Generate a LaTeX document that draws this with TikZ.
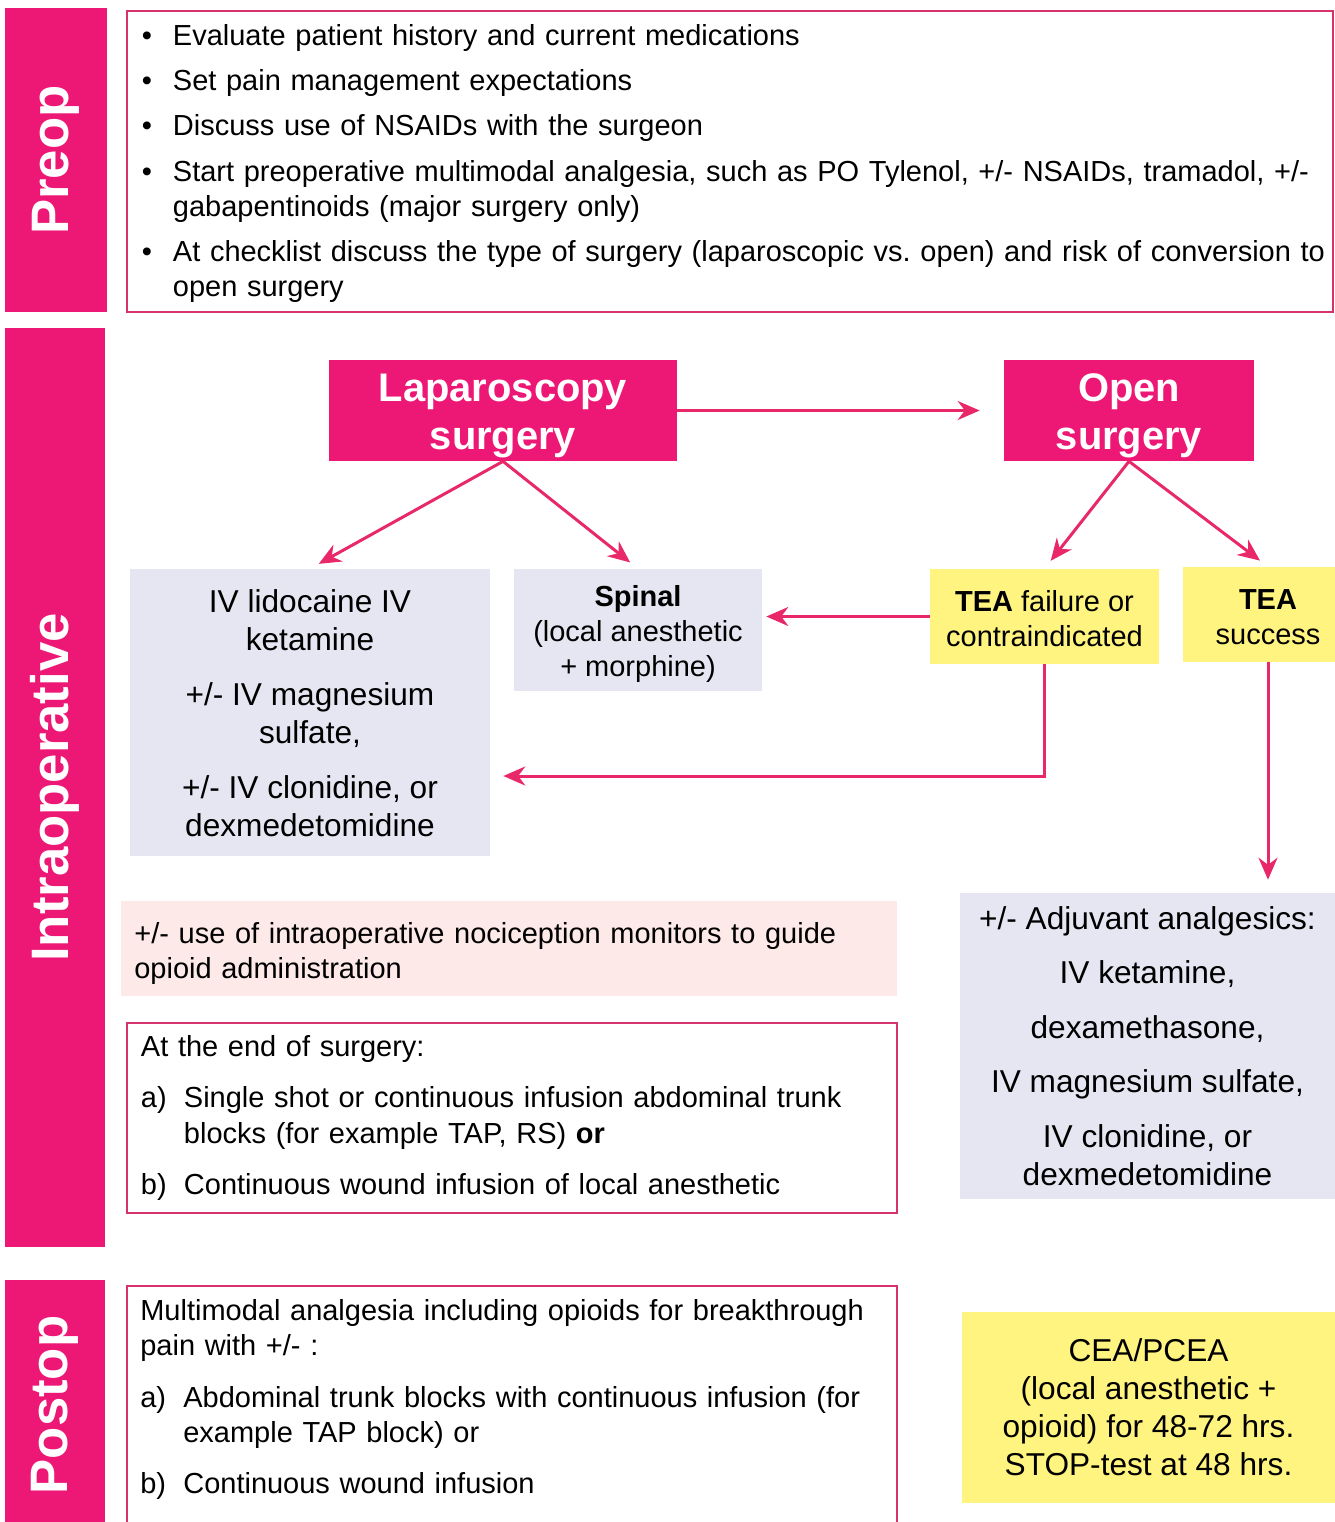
\documentclass[tikz,border=0pt]{standalone}
\usepackage{fontspec}
\setmainfont{Liberation Sans}
\usepackage{enumitem}
\usetikzlibrary{positioning,shapes,arrows.meta,calc}

\definecolor{tabpink}{RGB}{237,23,117}
\definecolor{linepink}{RGB}{232,40,105}
\definecolor{framepink}{RGB}{214,51,110}
\definecolor{lavender}{RGB}{230,230,242}
\definecolor{paleyellow}{RGB}{255,244,128}
\definecolor{palepink}{RGB}{252,233,232}

\newcommand{\bodysize}{\fontsize{16.5pt}{20pt}\selectfont\frenchspacing}
\newcommand{\bigsize}{\fontsize{18pt}{21.6pt}\selectfont\frenchspacing}

\tikzset{
    tab/.style={rectangle, fill=tabpink, rotate=90, text=white, font=\fontsize{30pt}{34pt}\selectfont\bfseries, inner sep=0pt},
    surgery/.style={rectangle, fill=tabpink, text=white, align=center, font=\fontsize{22.7pt}{27.3pt}\selectfont\bfseries, inner sep=0pt},
    outline/.style={rectangle, draw=framepink, line width=1.1pt, inner sep=0pt},
    drug/.style={rectangle, fill=lavender, align=center, font=\bigsize, inner sep=0pt},
    tea/.style={rectangle, fill=paleyellow, align=center, font=\bodysize, inner sep=0pt},
    flow/.style={draw=linepink, line width=1.7pt, -{Stealth[length=0.44cm,width=0.38cm]}}
}

\begin{document}
\begin{tikzpicture}[x=0.02cm,y=-0.02cm]
            \useasboundingbox (0,0) rectangle (1335,1522);

            \node[tab, minimum width=6.08cm, minimum height=2.04cm] (preoptab) at (56,160) {Preop};
            \node[tab, minimum width=18.38cm, minimum height=2cm] (intratab) at (55,787.5) {Intraoperative};
            \node[tab, minimum width=5cm, minimum height=2cm] (postoptab) at (55,1405) {Postop};

            \node[outline, anchor=north west, text width=23.92cm, inner xsep=0.1cm, minimum height=6.02cm, align=left, font=\bodysize] (preopbox) at (126,10) {
                \vspace*{-0.04cm}
                \begin{itemize}[leftmargin=0.82cm, labelindent=0.2cm, labelwidth=0.3cm, labelsep=0.32cm, align=left, itemsep=0.2cm, parsep=0pt, topsep=0pt, partopsep=0pt]
                    \item Evaluate patient history and current medications
                    \item Set pain management expectations
                    \item Discuss use of NSAIDs with the surgeon
                    \item Start preoperative multimodal analgesia, such as PO Tylenol, +/- NSAIDs, tramadol, +/-\newline
                    gabapentinoids (major surgery only)
                    \item At checklist discuss the type of surgery (laparoscopic vs. open) and risk of conversion to\newline
                    open surgery
                \end{itemize}
                \par\vspace{0.16cm}\hrule height 0pt
            };

            \node[surgery, minimum width=6.96cm, minimum height=2.02cm] (lap) at (503,410.5) {\rule{0pt}{22pt}Laparoscopy\\surgery};
            \node[surgery, minimum width=5cm, minimum height=2.02cm] (open) at (1129,410.5) {\rule{0pt}{22pt}Open\\surgery};

            \node[drug, minimum width=7.2cm, minimum height=5.74cm] (ivdrugs) at (310,712.5) {
                \rule{0pt}{14pt}IV lidocaine IV\\ketamine\\[0.34cm]
                +/- IV magnesium\\sulfate,\\[0.34cm]
                +/- IV clonidine, or\\dexmedetomidine
            };
            \node[drug, font=\bodysize, minimum width=4.96cm, minimum height=2.44cm] (spinal) at (638,630) {\rule{0pt}{16.6pt}\textbf{Spinal}\\(local anesthetic\\+ morphine)};
            \node[tea, minimum width=4.58cm, minimum height=1.9cm] (teafail) at (1044.5,616.5) {\rule{0pt}{14pt}\textbf{TEA} failure or\\contraindicated};
            \node[tea, minimum width=3.4cm, minimum height=1.9cm] (teasucc) at (1268,614.5) {\rule{0pt}{14.5pt}\textbf{TEA}\\success};

            \node[rectangle, fill=palepink, anchor=north west, text width=15cm, inner xsep=0.26cm, inner ysep=0pt, minimum height=1.9cm, align=left, font=\bodysize] (monitor) at (121,901) {
                \rule{0pt}{17.7pt}+/- use of intraoperative nociception monitors to guide\\opioid administration
            };

            \node[outline, anchor=north west, text width=14.84cm, inner xsep=0.28cm, minimum height=3.8cm, align=left, font=\bodysize] (endsurgery) at (126,1022) {
                At the end of surgery:
                \begin{enumerate}[label=\alph*), leftmargin=0.86cm, labelindent=0pt, labelwidth=0.56cm, labelsep=0.3cm, align=left, itemsep=0.33cm, parsep=0pt, topsep=0.33cm, partopsep=0pt]
                    \item Single shot or continuous infusion abdominal trunk\newline
                    blocks (for example TAP, RS) \textbf{or}
                    \item Continuous wound infusion of local anesthetic
                \end{enumerate}
            };

            \node[drug, minimum width=7.5cm, minimum height=6.12cm] (adjuvant) at (1147.5,1046) {
                +/- Adjuvant analgesics:\\[0.33cm]
                IV ketamine,\\[0.33cm]
                dexamethasone,\\[0.33cm]
                IV magnesium sulfate,\\[0.33cm]
                IV clonidine, or\\dexmedetomidine
            };

            \node[outline, anchor=north west, minimum width=15.4cm, minimum height=5.3cm] (postop) at (126,1285) {};
            \node[anchor=north west, text width=14.84cm, inner sep=0pt, align=left, font=\bodysize] (postoptext) at ([xshift=0.28cm,yshift=-0.28cm]postop.north west) {
                Multimodal analgesia including opioids for breakthrough\\pain with +/- :
                \begin{enumerate}[label=\alph*), leftmargin=0.86cm, labelindent=0pt, labelwidth=0.56cm, labelsep=0.3cm, align=left, itemsep=0.33cm, parsep=0pt, topsep=0.33cm, partopsep=0pt]
                    \item Abdominal trunk blocks with continuous infusion (for\newline
                    example TAP block) or
                    \item Continuous wound infusion
                \end{enumerate}
            };

            \node[tea, font=\bigsize, minimum width=7.46cm, minimum height=3.82cm] (cea) at (1148.5,1407.5) {CEA/PCEA\\(local anesthetic +\\opioid) for 48-72 hrs.\\STOP-test at 48 hrs.};

            \draw[flow, shorten >=0.48cm] (lap) -- (open);
            \draw[flow, shorten >=0.2cm] (lap.south) -- (ivdrugs.north);
            \draw[flow, shorten >=0.2cm] (lap.south) -- (spinal.north);
            \draw[flow, shorten >=0.2cm] (open.south) -- (teafail.north);
            \draw[flow, shorten >=0.2cm] (open.south) -- (teasucc.north);
            \draw[flow, shorten >=0.08cm] (teafail.west) -- (teafail.west -| spinal.east);
            \draw[flow, shorten >=0.26cm] (teafail.south) |- ($(ivdrugs.east)+(0,63.5)$);
            \draw[flow, shorten >=0.26cm] (teasucc.south) -- (teasucc.south |- adjuvant.north);
        \end{tikzpicture}
\end{document}
